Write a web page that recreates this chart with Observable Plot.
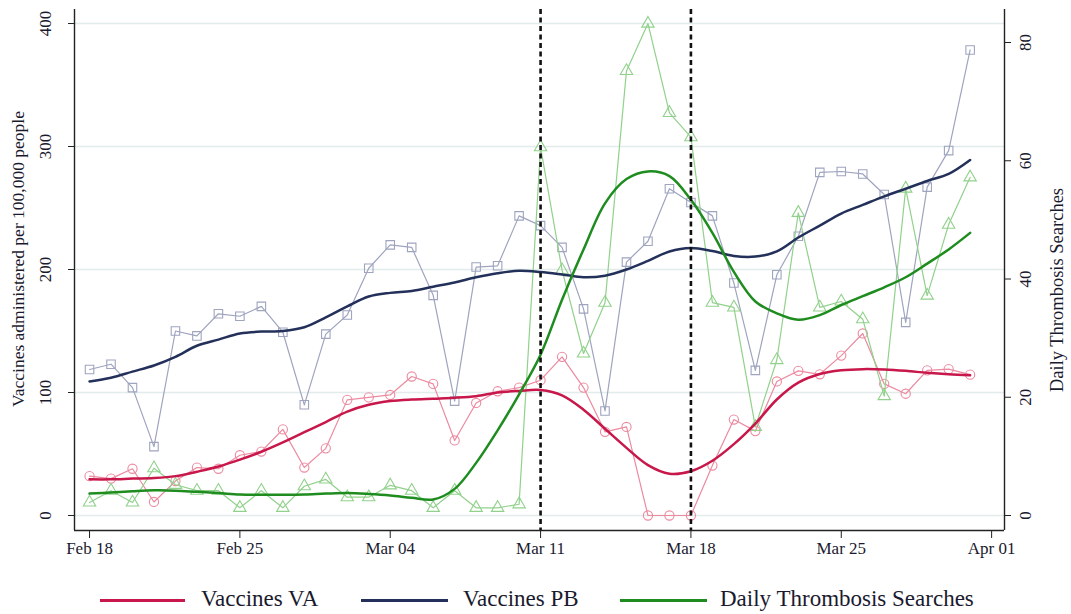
<!DOCTYPE html>
<html>
<head>
<meta charset="utf-8">
<script src="https://cdn.jsdelivr.net/npm/d3@7"></script>
<script src="https://cdn.jsdelivr.net/npm/@observablehq/plot@0.6"></script>
<style>
  html, body { margin: 0; padding: 0; background: #fff; }
  #wrap { position: relative; width: 1071px; height: 614px; font-family: "Liberation Serif", "Times New Roman", serif; color: #1a1a2e; }
  #legend { position: absolute; left: 0; top: 586px; width: 1071px; height: 28px; }
  .sw { position: absolute; top: 13px; height: 3px; }
  .lt { position: absolute; top: 0px; font-size: 23px; line-height: 26px; white-space: nowrap; }
</style>
</head>
<body>
<div id="wrap">
  <div id="chart"></div>
  <div id="legend">
    <div class="sw" style="left:100px;width:85px;background:#c8174a"></div>
    <div class="lt" style="left:201px">Vaccines VA</div>
    <div class="sw" style="left:361px;width:87px;background:#23305a"></div>
    <div class="lt" style="left:463px">Vaccines PB</div>
    <div class="sw" style="left:620px;width:87px;background:#1e8c1e"></div>
    <div class="lt" style="left:720px">Daily Thrombosis Searches</div>
  </div>
</div>
<script>
// ---- data ----
const dates = [
  "2021-02-18","2021-02-19","2021-02-20","2021-02-21","2021-02-22","2021-02-23","2021-02-24",
  "2021-02-25","2021-02-26","2021-02-27","2021-02-28","2021-03-01","2021-03-02","2021-03-03",
  "2021-03-04","2021-03-05","2021-03-06","2021-03-07","2021-03-08","2021-03-09","2021-03-10",
  "2021-03-11","2021-03-12","2021-03-13","2021-03-14","2021-03-15","2021-03-16","2021-03-17",
  "2021-03-18","2021-03-19","2021-03-20","2021-03-21","2021-03-22","2021-03-23","2021-03-24",
  "2021-03-25","2021-03-26","2021-03-27","2021-03-28","2021-03-29","2021-03-30","2021-03-31"
];
const vaRaw = [32,30,38,11,28,39,38,49,52,70,39,54.6,94,96,98,
  113,107,61,91.5,101,104,110,129,104,68,72,0,0,0,40.6,
  78,68.6,109,117.6,114.8,130,148,107,99,118,119,114.5];
const vaFit = [29.4,29.4,30,30.5,32,35.6,39.8,45.4,51.8,59.4,67.7,76,84.5,90,93,
  94.3,95,95.7,97,100,101.3,102,97.7,86,70.5,55,41,34,36,44.5,
  58,74.7,94.3,108,115,118,119,118.7,117.6,116,114.8,114];
const pbRaw = [118.7,123,104,56,150,146,164,162,170,149,90,147.5,163,201,220,
  218,179,93,202,203,243.6,235.7,218,168,85,206,223,265.7,254.5,243.6,
  189,118,195.7,227,279,279.7,277.7,261,157,267,296.7,378.5];
const pbFit = [109,112,117,122,129,138,143,148,149.5,150,153,161,170,178,181,
  182.5,186,189.5,193.7,197,199,198,196,193.7,195,200,207,214.7,217.5,215,
  211,210.5,214.7,226,235.7,245.5,252.5,259.5,265.7,272,277.7,289];
const thrRaw = [2.2,4.2,2.2,8.0,5.2,4.2,4.2,1.3,4.2,1.3,4.95,6.1,3.1,3.1,5.1,
  4.2,1.3,4.2,1.3,1.3,1.9,62.3,41.5,27.4,36,75.2,83.2,68.1,64,36,
  35.2,15,26.3,51.2,35.2,36.2,33.2,20.2,55.3,37.2,49.2,57.2];
const thrFit = [3.7,3.9,4.1,4.25,4.2,4.0,3.8,3.55,3.5,3.5,3.55,3.7,3.8,3.65,3.4,
  3.0,2.7,4.5,8.9,14.4,20.5,27.2,36.5,45,52.8,56.9,58.2,57.4,53.4,47.8,
  41.2,36.2,34.2,33.1,33.9,35.6,37.1,38.6,40.3,42.6,45,47.8];
const leftTicks = [0, 100, 200, 300, 400];
const rightTicks = [0, 20, 40, 60, 80];
const xTickLabels = ["2021-02-18","2021-02-25","2021-03-04","2021-03-11","2021-03-18","2021-03-25","2021-04-01"];
const eventDates = ["2021-03-11","2021-03-18"];

// right axis (searches) mapped onto left scale
const K = 4.807;
const parse = d3.utcParse("%Y-%m-%d");
const DAY = 864e5;

const rows = dates.map((d, i) => ({
  date: parse(d), va: vaRaw[i], vaF: vaFit[i], pb: pbRaw[i], pbF: pbFit[i],
  thr: thrRaw[i] * K, thrF: thrFit[i] * K
}));

const xMin = new Date(+parse("2021-02-18") - 0.7 * DAY);
const xMax = new Date(+parse("2021-04-01") + 0.6 * DAY);

const ink = "#1a1a2e";
const col = {
  vaR: "#ec8aa0", vaF: "#c8174a",
  pbR: "#9fa4bf", pbF: "#23305a",
  thR: "#91d18c", thF: "#1e8c1e"
};

const chart = Plot.plot({
  width: 1071,
  height: 575,
  marginLeft: 74,
  marginRight: 67,
  marginTop: 9,
  marginBottom: 45,
  style: { fontFamily: "Liberation Serif, Times New Roman, serif", background: "#fff", color: ink },
  x: { type: "utc", domain: [xMin, xMax] },
  y: { domain: [-12.2, 411.4] },
  marks: [
    Plot.ruleY(leftTicks, { stroke: "#e3ecec", strokeWidth: 1.5 }),
    // raw series
    Plot.line(rows, { x: "date", y: "va", stroke: col.vaR, strokeWidth: 1.2 }),
    Plot.dot(rows, { x: "date", y: "va", symbol: "circle", r: 4.6, stroke: col.vaR, strokeWidth: 1.1, fill: "none" }),
    Plot.line(rows, { x: "date", y: "pb", stroke: col.pbR, strokeWidth: 1.2 }),
    Plot.dot(rows, { x: "date", y: "pb", symbol: "square", r: 4.8, stroke: col.pbR, strokeWidth: 1.1, fill: "none" }),
    Plot.line(rows, { x: "date", y: "thr", stroke: col.thR, strokeWidth: 1.2 }),
    Plot.dot(rows, { x: "date", y: "thr", symbol: "triangle", r: 4.6, stroke: col.thR, strokeWidth: 1.1, fill: "none" }),
    // fitted
    Plot.line(rows, { x: "date", y: "vaF", stroke: col.vaF, strokeWidth: 2.5, curve: "catmull-rom" }),
    Plot.line(rows, { x: "date", y: "pbF", stroke: col.pbF, strokeWidth: 2.5, curve: "catmull-rom" }),
    Plot.line(rows, { x: "date", y: "thrF", stroke: col.thF, strokeWidth: 2.5, curve: "catmull-rom" }),
    // event lines
    Plot.ruleX(eventDates.map(parse), { stroke: "#111", strokeWidth: 2.6, strokeDasharray: "5,3.5" }),
    // frame lines
    Plot.ruleX([xMin, xMax], { stroke: "#222", strokeWidth: 1.4 }),
    Plot.ruleY([-12.2], { stroke: "#222", strokeWidth: 1.4 }),
    // axes
    Plot.axisX({ ticks: xTickLabels.map(parse), tickFormat: d3.utcFormat("%b %d"), tickSize: 8, tickPadding: 3, fontSize: 17, label: null, stroke: "#222", fill: ink }),
    Plot.axisY({ anchor: "left", ticks: leftTicks, tickSize: 6, tickFormat: () => "", label: null, stroke: "#222" }),
    Plot.axisY({ anchor: "right", ticks: rightTicks.map(v => v * K), tickSize: 6, tickFormat: () => "", label: null, stroke: "#222" }),
    Plot.text(leftTicks, { y: d => d, text: d => String(d), frameAnchor: "left", textAnchor: "middle", dx: -29, rotate: -90, fontSize: 17, fill: ink }),
    Plot.text(rightTicks, { y: d => d * K, text: d => String(d), frameAnchor: "right", textAnchor: "middle", dx: 21, rotate: -90, fontSize: 17, fill: ink }),
    Plot.text(["Vaccines administered per 100,000 people"], { frameAnchor: "left", textAnchor: "middle", dx: -56, dy: -11, rotate: -90, fontSize: 17.5, fill: ink }),
    Plot.text(["Daily Thrombosis Searches"], { frameAnchor: "right", textAnchor: "middle", dx: 53, dy: 20, rotate: -90, fontSize: 18.5, fill: ink })
  ]
});
document.getElementById("chart").appendChild(chart);
</script>
</body>
</html>
